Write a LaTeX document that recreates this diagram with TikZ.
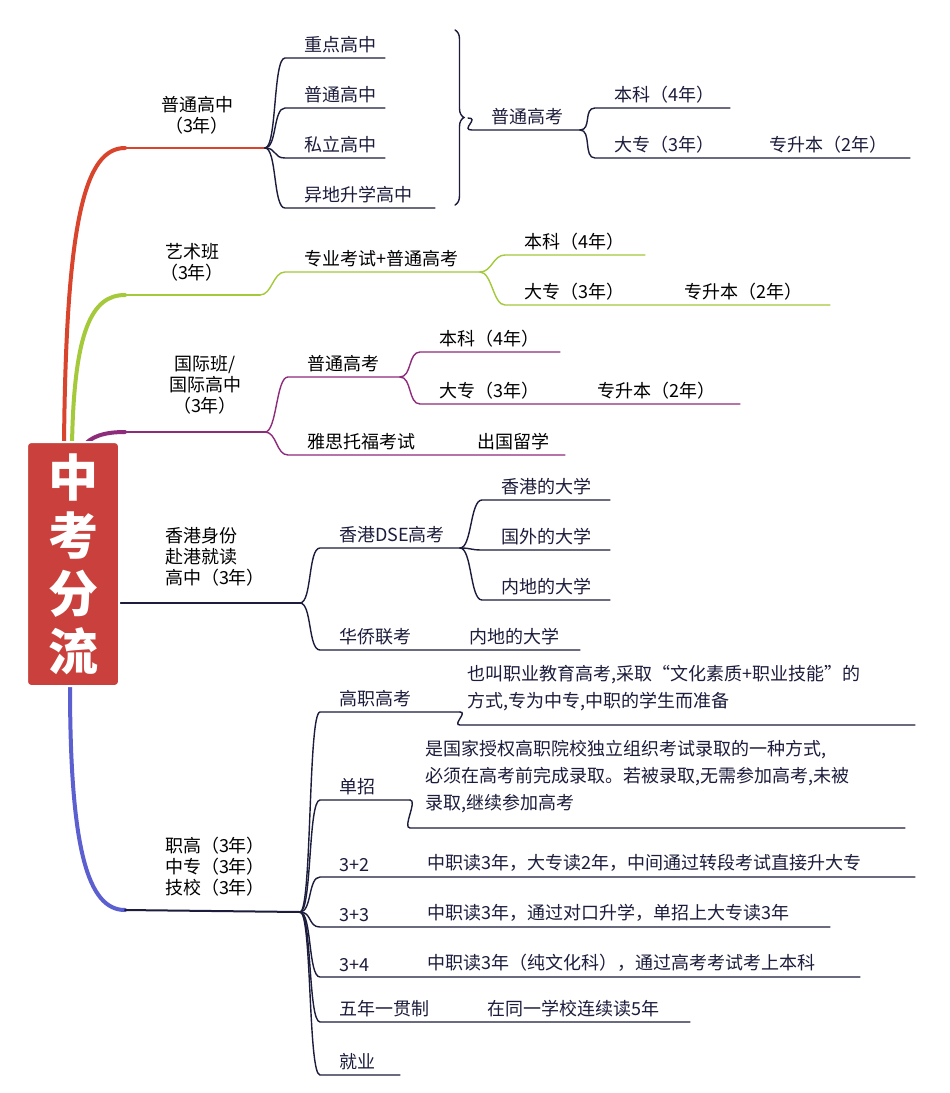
\documentclass[tikz,border=0pt]{standalone}
\usepackage{fontspec}
\setmainfont{Noto Sans CJK SC}
\usetikzlibrary{calc,decorations.pathreplacing}
\definecolor{rootred}{HTML}{C9403C}
\definecolor{redb}{HTML}{D9442C}
\definecolor{greenb}{HTML}{A4C93A}
\definecolor{purpleb}{HTML}{8E2C7C}
\definecolor{navyb}{HTML}{1C1C3C}
\definecolor{blueb}{HTML}{5B5FCF}
\tikzset{
  twig/.style={line width=1.4pt, line cap=round},
  trunk/.style={line width=4pt, line cap=round},
  lbl/.style={font=\fontsize{18}{21}\selectfont, inner sep=1pt, anchor=south west},
  desc/.style={font=\fontsize{18}{27}\selectfont, inner sep=1pt, anchor=north west, align=left},
}
% name, parent, x1, x2, y, text
\newcommand\twig[6]{%
  \coordinate (#1-s) at (#3,#5);
  \coordinate (#1-e) at (#4,#5);
  \draw[twig] (#2) .. controls +(12,0) and +(-12,0) .. (#1-s) -- (#1-e);
  \node[lbl] (#1) at ($(#1-s)+(18,-4)$) {#6};}
\begin{document}
\begin{tikzpicture}[x=1pt,y=-1pt]
  \useasboundingbox[fill=white] (0,0) rectangle (950,1093);

  % main branches
  \coordinate (hs) at (265,148);
  \coordinate (art) at (260,295);
  \coordinate (intl) at (265,432);
  \coordinate (hk) at (300,603);
  \coordinate (voc) at (300,912);
  \draw[trunk, redb] (64,445) .. controls (66,220) and (85,148) .. (125,148);
  \draw[twig, redb, line width=2pt] (125,148) -- (hs);
  \draw[trunk, greenb] (72,445) .. controls (74,330) and (92,295) .. (125,295);
  \draw[twig, greenb, line width=2pt] (125,295) -- (art);
  \draw[trunk, purpleb] (82,448) .. controls (90,436) and (105,432) .. (125,432);
  \draw[twig, purpleb, line width=2pt] (125,432) -- (intl);
  \draw[twig, navyb, line width=2pt] (118,603) -- (hk);
  \draw[trunk, blueb] (70,685) .. controls (70,850) and (88,910) .. (125,910);
  \draw[twig, navyb, line width=2pt] (125,910) -- (voc);

  \node[lbl, anchor=center, align=center] (hsL) at (197,115) {普通高中\\（3年）};
  \node[lbl, anchor=center, align=center] (artL) at (192,262) {艺术班\\（3年）};
  \node[lbl, anchor=center, align=center] (intlL) at (205,385) {国际班/\\国际高中\\（3年）};
  \node[lbl, anchor=center, align=left] (hkL) at (215,557) {香港身份\\赴港就读\\高中（3年）};
  \node[lbl, anchor=center, align=left] (vocL) at (215,867) {职高（3年）\\中专（3年）\\技校（3年）};

  % root
  \node[draw=white, line width=2pt, fill=rootred, rounded corners=4pt,
        minimum width=92pt, minimum height=244pt, text=white, align=center,
        font=\fontsize{50}{58}\bfseries\selectfont] (root) at (73,564)
        {中\\考\\分\\流};

  % 普通高中
  \begin{scope}[navyb]
    \twig{zd}{hs}{285}{385}{58}{重点高中}
    \twig{pt}{hs}{285}{385}{108}{普通高中}
    \twig{sl}{hs}{285}{385}{158}{私立高中}
    \twig{yd}{hs}{285}{435}{208}{异地升学高中}
    \draw[twig, decorate, decoration={brace, amplitude=9pt}] (455,30) -- (455,205);
    \coordinate (gk) at (468,118);
    \twig{gk1}{gk}{472}{580}{130}{普通高考}
    \twig{bk1}{gk1-e}{595}{730}{108}{本科（4年）}
    \twig{dz1}{gk1-e}{595}{910}{158}{大专（3年）}
    \node[lbl] (zs1) at (768,154) {专升本（2年）};
  \end{scope}

  % 艺术班
  \begin{scope}[greenb]
    \twig{zy}{art}{285}{480}{272}{\textcolor{black}{专业考试+普通高考}}
    \twig{bk2}{zy-e}{505}{645}{255}{\textcolor{black}{本科（4年）}}
    \twig{dz2}{zy-e}{505}{830}{305}{\textcolor{black}{大专（3年）}}
    \node[lbl, text=black] (zs2) at (683,301) {专升本（2年）};
  \end{scope}

  % 国际班
  \begin{scope}[purpleb]
    \twig{gk3}{intl}{288}{400}{377}{\textcolor{black}{普通高考}}
    \twig{bk3}{gk3-e}{420}{560}{352}{\textcolor{black}{本科（4年）}}
    \twig{dz3}{gk3-e}{420}{740}{404}{\textcolor{black}{大专（3年）}}
    \node[lbl, text=black] (zs3) at (596,400) {专升本（2年）};
    \twig{ys}{intl}{288}{565}{455}{\textcolor{black}{雅思托福考试}}
    \node[lbl, text=black] (cg) at (476,451) {出国留学};
  \end{scope}

  % 香港
  \begin{scope}[navyb]
    \twig{dse}{hk}{320}{460}{548}{香港DSE高考}
    \twig{hku}{dse-e}{482}{610}{500}{香港的大学}
    \twig{gwu}{dse-e}{482}{610}{550}{国外的大学}
    \twig{ndu}{dse-e}{482}{610}{600}{内地的大学}
    \twig{hq}{hk}{320}{580}{650}{华侨联考}
    \node[lbl] (ndu2) at (468,646) {内地的大学};
  \end{scope}

  % 职高
  \begin{scope}[navyb]
    \twig{gz}{voc}{320}{460}{712}{高职高考}
    \coordinate (gzd-s) at (460,725);
    \draw[twig] (gz-e) .. controls +(8,0) and +(-8,0) .. (gzd-s) -- (915,725);
    \node[desc] (gzd) at (466,664) {也叫职业教育高考,采取“文化素质+职业技能”的\\方式,专为中专,中职的学生而准备};
    \twig{dzh}{voc}{320}{410}{800}{单招}
    \coordinate (dzhd-s) at (410,828);
    \draw[twig] (dzh-e) .. controls +(8,0) and +(-8,0) .. (dzhd-s) -- (905,828);
    \node[desc] (dzhd) at (424,739) {是国家授权高职院校独立组织考试录取的一种方式,\\必须在高考前完成录取。若被录取,无需参加高考,未被\\录取,继续参加高考};
    \twig{s32}{voc}{320}{915}{877}{3+2}
    \node[lbl] (s32d) at (426,873) {中职读3年，大专读2年，中间通过转段考试直接升大专};
    \twig{s33}{voc}{320}{830}{927}{3+3}
    \node[lbl] (s33d) at (426,923) {中职读3年，通过对口升学，单招上大专读3年};
    \twig{s34}{voc}{320}{860}{977}{3+4}
    \node[lbl] (s34d) at (426,973) {中职读3年（纯文化科），通过高考考试考上本科};
    \twig{wn}{voc}{320}{690}{1022}{五年一贯制}
    \node[lbl] (wnd) at (486,1018) {在同一学校连续读5年};
    \twig{jy}{voc}{320}{400}{1075}{就业}
  \end{scope}
\end{tikzpicture}
\end{document}
